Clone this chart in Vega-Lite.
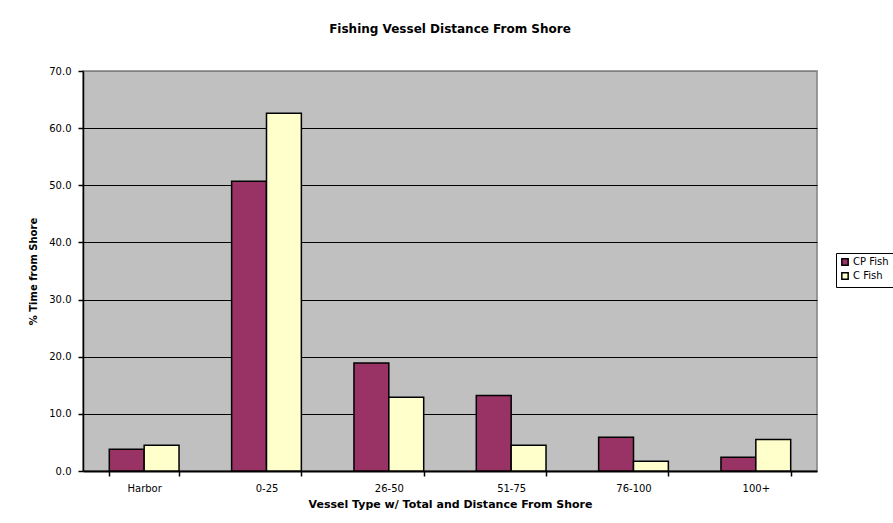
{
  "$schema": "https://vega.github.io/schema/vega-lite/v6.json",
  "width": 734,
  "height": 400,
  "autosize": {"type": "none"},
  "padding": {"left": 83, "top": 71, "right": 76, "bottom": 52},
  "background": "white",
  "title": {"text": "Fishing Vessel Distance From Shore", "font": "DejaVu Sans", "fontSize": 12, "fontWeight": "bold", "color": "black", "offset": 30, "anchor": "middle"},
  "config": {
    "view": {"fill": "#C0C0C0", "stroke": "#808080", "strokeWidth": 1.5},
    "font": "DejaVu Sans"
  },
  "data": {"values": [
    {"distance": "Harbor", "vessel": "CP Fish", "pct": 3.8},
    {"distance": "Harbor", "vessel": "C Fish", "pct": 4.5},
    {"distance": "0-25", "vessel": "CP Fish", "pct": 50.7},
    {"distance": "0-25", "vessel": "C Fish", "pct": 62.6},
    {"distance": "26-50", "vessel": "CP Fish", "pct": 18.9},
    {"distance": "26-50", "vessel": "C Fish", "pct": 12.9},
    {"distance": "51-75", "vessel": "CP Fish", "pct": 13.2},
    {"distance": "51-75", "vessel": "C Fish", "pct": 4.5},
    {"distance": "76-100", "vessel": "CP Fish", "pct": 5.9},
    {"distance": "76-100", "vessel": "C Fish", "pct": 1.7},
    {"distance": "100+", "vessel": "CP Fish", "pct": 2.4},
    {"distance": "100+", "vessel": "C Fish", "pct": 5.5}
  ]},
  "mark": {"type": "bar", "stroke": "black", "strokeWidth": 1.5},
  "encoding": {
    "x": {
      "field": "distance", "type": "nominal",
      "sort": ["Harbor", "0-25", "26-50", "51-75", "76-100", "100+"],
      "scale": {"paddingInner": 0.43, "paddingOuter": 0.215},
      "axis": {
        "orient": "bottom", "labelAngle": 0, "ticks": true, "tickBand": "extent", "tickColor": "black", "tickSize": 5, "tickWidth": 1.5,
        "domain": true, "domainColor": "black", "domainWidth": 2,
        "labelFont": "DejaVu Sans", "labelFontSize": 10, "labelColor": "black", "labelPadding": 7,
        "title": "Vessel Type w/ Total  and Distance From Shore", "titleFont": "DejaVu Sans", "titleFontSize": 11, "titleFontWeight": "bold", "titleColor": "black", "titlePadding": 5
      }
    },
    "xOffset": {"field": "vessel", "type": "nominal", "sort": ["CP Fish", "C Fish"], "scale": {"paddingInner": 0}},
    "y": {
      "field": "pct", "type": "quantitative",
      "scale": {"domain": [0, 70]},
      "axis": {
        "values": [0, 10, 20, 30, 40, 50, 60, 70], "format": ".1f",
        "grid": true, "gridColor": {"condition": {"test": "datum.value == 70 || datum.value == 0", "value": "#808080"}, "value": "black"}, "gridWidth": 1,
        "domainColor": "black", "domainWidth": 1.5, "tickColor": "black", "tickSize": 5, "tickWidth": 1.5,
        "labelFont": "DejaVu Sans", "labelFontSize": 10, "labelColor": "black", "labelPadding": 7,
        "title": "% Time from Shore", "titleFont": "DejaVu Sans", "titleFontSize": 10, "titleFontWeight": "bold", "titleColor": "black", "titlePadding": 10
      }
    },
    "color": {
      "field": "vessel", "type": "nominal",
      "scale": {"domain": ["CP Fish", "C Fish"], "range": ["#993366", "#FFFFCC"]},
      "legend": {
        "orient": "none", "legendX": 753, "legendY": 182, "title": null,
        "strokeColor": "black", "fillColor": "white", "padding": 4,
        "symbolType": "square", "symbolStrokeColor": "black", "symbolStrokeWidth": 1.5, "symbolSize": 40,
        "labelFont": "DejaVu Sans", "labelFontSize": 10, "labelColor": "black", "rowPadding": 0, "labelOffset": 3
      }
    }
  }
}
